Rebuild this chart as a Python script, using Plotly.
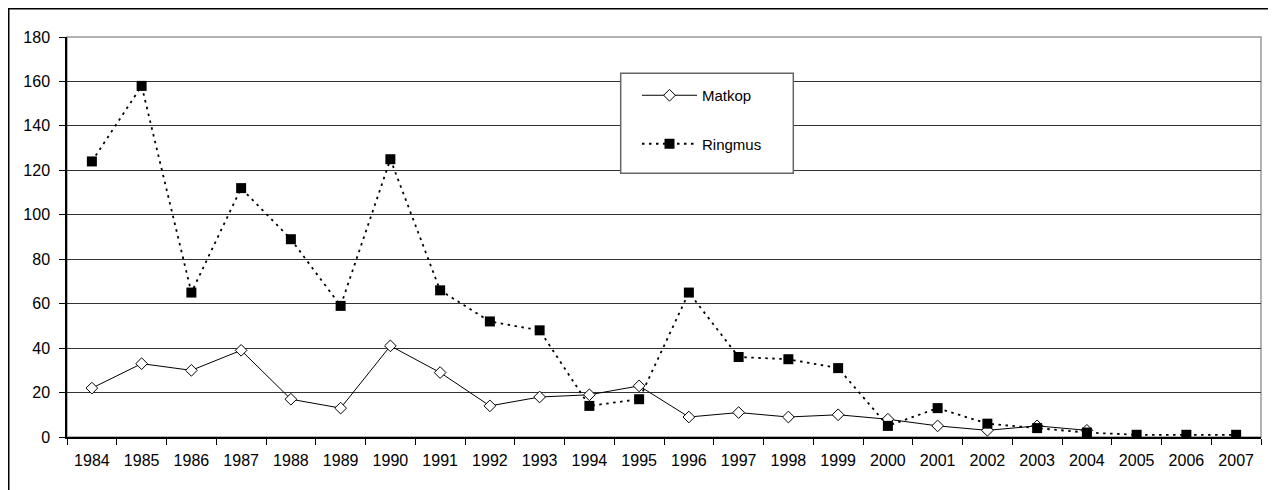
import plotly.graph_objects as go

years = [str(y) for y in range(1984, 2008)]
matkop = [22, 33, 30, 39, 17, 13, 41, 29, 14, 18, 19, 23, 9, 11, 9, 10, 8, 5, 3, 5, 3, None, None, None]
ringmus = [124, 158, 65, 112, 89, 59, 125, 66, 52, 48, 14, 17, 65, 36, 35, 31, 5, 13, 6, 4, 2, 1, 1, 1]
y_ticks = [0, 20, 40, 60, 80, 100, 120, 140, 160, 180]

FONT = "Liberation Sans, Arial, sans-serif"

# page has an 8px body margin: figure is sized/positioned to compensate
W, H = 1268, 482
L, R, T, B = 59, 15, 29, 53
PW, PH = W - L - R, H - T - B


def px(xpage):
    return (xpage - 8 - L) / PW


def py(ypage):
    return (H - B - (ypage - 8)) / PH


fig = go.Figure()
fig.add_trace(go.Scatter(
    x=years, y=matkop, name="Matkop", mode="lines+markers",
    line=dict(color="black", width=1),
    marker=dict(symbol="diamond", size=9, color="white", line=dict(color="black", width=1)),
    connectgaps=False, legendgroup="a",
))
fig.add_trace(go.Scatter(
    x=years, y=ringmus, name="Ringmus", mode="lines+markers",
    line=dict(color="black", width=1.8, dash="2.5px,4.5px"),
    marker=dict(symbol="square", size=10, color="black", line=dict(color="black", width=0)),
    legendgroup="b",
))

# plot-area frame (gray)
fig.add_shape(type="rect", xref="paper", yref="paper", x0=0, x1=1, y0=0, y1=1,
              line=dict(color="#999999", width=1.5), layer="below")
# legend box
fig.add_shape(type="rect", xref="paper", yref="paper",
              x0=px(620.7), x1=px(793.3), y0=py(173.3), y1=py(73.3),
              fillcolor="white", line=dict(color="#666666", width=1.5), layer="above")
# outer chart frame (black)
fig.add_shape(type="rect", xref="paper", yref="paper",
              x0=px(8.5), x1=px(1273), y0=py(520), y1=py(8.5),
              line=dict(color="black", width=2), layer="above")

fig.update_layout(
    width=W, height=H,
    margin=dict(l=L, r=R, t=T, b=B),
    paper_bgcolor="white", plot_bgcolor="white",
    font=dict(family=FONT, size=15, color="black"),
    showlegend=True,
    legend=dict(
        x=px(637), y=py(79), xanchor="left", yanchor="top",
        bgcolor="rgba(0,0,0,0)", borderwidth=0,
        font=dict(family=FONT, size=15, color="black"),
        tracegroupgap=26, itemwidth=55,
    ),
    xaxis=dict(
        type="category", categoryorder="array", categoryarray=years,
        tickson="boundaries", ticks="outside", ticklen=6, tickcolor="black",
        showgrid=False, showline=True, linecolor="black", linewidth=1.5,
        tickfont=dict(family=FONT, size=16), range=[-0.5, 23.5],
        ticklabelstandoff=8,
    ),
    yaxis=dict(
        range=[0, 180], tickvals=y_ticks, ticks="outside", ticklen=6, tickcolor="black",
        showgrid=True, gridcolor="#333333", gridwidth=1,
        showline=True, linecolor="black", linewidth=1.5, zeroline=False,
        tickfont=dict(family=FONT, size=16), ticklabelstandoff=6,
    ),
)

fig.write_html("out.html")
